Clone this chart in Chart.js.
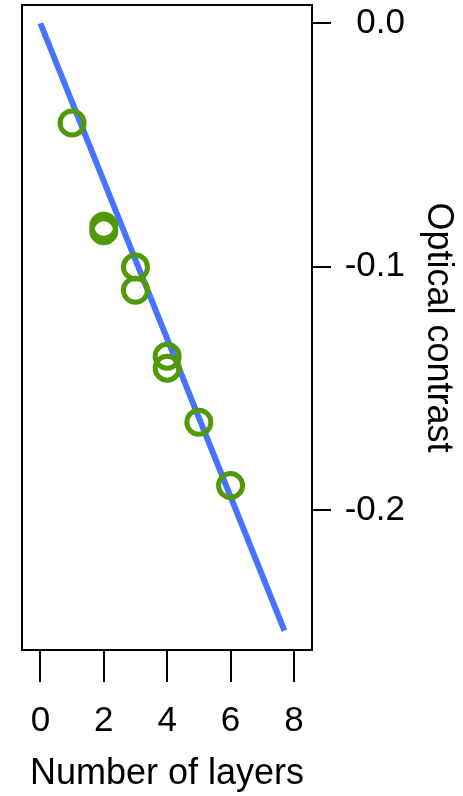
<!DOCTYPE html>
<html>
<head>
<meta charset="utf-8">
<script src="https://cdn.jsdelivr.net/npm/chart.js@4.4.0/dist/chart.umd.min.js"></script>
<style>
  html, body { margin: 0; padding: 0; background: #fff; }
</style>
</head>
<body>
<canvas id="chart" width="463" height="796"></canvas>
<script>
// measured points (number of layers vs optical contrast)
const layers = [1, 2, 2, 3, 3, 4, 4, 5, 6];
const contrast = [-0.0410, -0.0834, -0.0853, -0.1001, -0.1097, -0.1368, -0.1417, -0.1639, -0.1899];

// linear fit line
const fitX = [0, 7.7];
const fitY = [0, -0.2495];

// axis ticks
const xTicks = [0, 2, 4, 6, 8];
const yTicks = [0, -0.1, -0.2];

const FONT = 'Liberation Sans, Arial, Helvetica, sans-serif';

// draws the black frame round the plot area
const boxPlugin = {
  id: 'box',
  afterDraw(chart) {
    const { ctx, chartArea: a } = chart;
    ctx.save();
    ctx.strokeStyle = '#000';
    ctx.lineWidth = 2;
    ctx.strokeRect(a.left, a.top, a.right - a.left, a.bottom - a.top);
    ctx.restore();
  }
};

// no extra room for label overflow, the plot box is placed by layout padding
function noPad(s) {
  s.paddingTop = 0;
  s.paddingBottom = 0;
  s.paddingLeft = 0;
  s.paddingRight = 0;
}

const ctx = document.getElementById('chart').getContext('2d');
new Chart(ctx, {
  data: {
    datasets: [
      {
        type: 'scatter',
        label: 'Measured',
        data: layers.map((x, i) => ({ x: x, y: contrast[i] })),
        pointStyle: 'circle',
        pointRadius: 12,
        pointBorderWidth: 5,
        pointBackgroundColor: 'rgba(0,0,0,0)',
        pointBorderColor: '#4F9A06'
      },
      {
        type: 'line',
        label: 'Fit',
        data: fitX.map((x, i) => ({ x: x, y: fitY[i] })),
        borderColor: '#4673FF',
        borderWidth: 6,
        borderCapStyle: 'butt',
        pointRadius: 0,
        fill: false
      }
    ]
  },
  options: {
    responsive: false,
    devicePixelRatio: 1,
    animation: false,
    layout: { autoPadding: false, padding: { left: 22, top: 5, right: 0, bottom: 0 } },
    plugins: {
      legend: { display: false },
      tooltip: { enabled: false }
    },
    scales: {
      x: {
        type: 'linear',
        position: 'bottom',
        min: -0.58,
        max: 8.57,
        afterBuildTicks: s => { s.ticks = xTicks.map(v => ({ value: v })); },
        afterFit: s => { s.height = 146; noPad(s); },
        border: { display: false },
        grid: { drawOnChartArea: false, drawTicks: true, tickLength: 32, color: '#000', lineWidth: 2 },
        ticks: {
          color: '#000',
          font: { family: FONT, size: 35 },
          padding: 18,
          maxRotation: 0,
          autoSkip: false
        },
        title: {
          display: true,
          text: 'Number of layers',
          color: '#000',
          font: { family: FONT, size: 36 },
          padding: { top: 0, bottom: 0 }
        }
      },
      y: {
        type: 'linear',
        position: 'right',
        weight: 0,
        min: -0.2575,
        max: 0.0075,
        afterBuildTicks: s => { s.ticks = yTicks.map(v => ({ value: v })); },
        afterFit: s => { s.width = 93; noPad(s); },
        border: { display: false },
        grid: { drawOnChartArea: false, drawTicks: true, tickLength: 19, color: '#000', lineWidth: 2 },
        ticks: {
          color: '#000',
          font: { family: FONT, size: 35 },
          padding: 10,
          crossAlign: 'far',
          autoSkip: false,
          callback: v => v.toFixed(1)
        }
      },
      // carries only the y title, outside the tick labels
      yTitle: {
        type: 'linear',
        position: 'right',
        weight: 1,
        min: -0.2575,
        max: 0.0075,
        afterFit: s => { s.width = 58; noPad(s); },
        border: { display: false },
        grid: { display: false },
        ticks: { display: false },
        title: {
          display: true,
          text: 'Optical contrast',
          color: '#000',
          font: { family: FONT, size: 36 },
          padding: { top: 3, bottom: 0 }
        }
      }
    }
  },
  plugins: [boxPlugin]
});
</script>
</body>
</html>
